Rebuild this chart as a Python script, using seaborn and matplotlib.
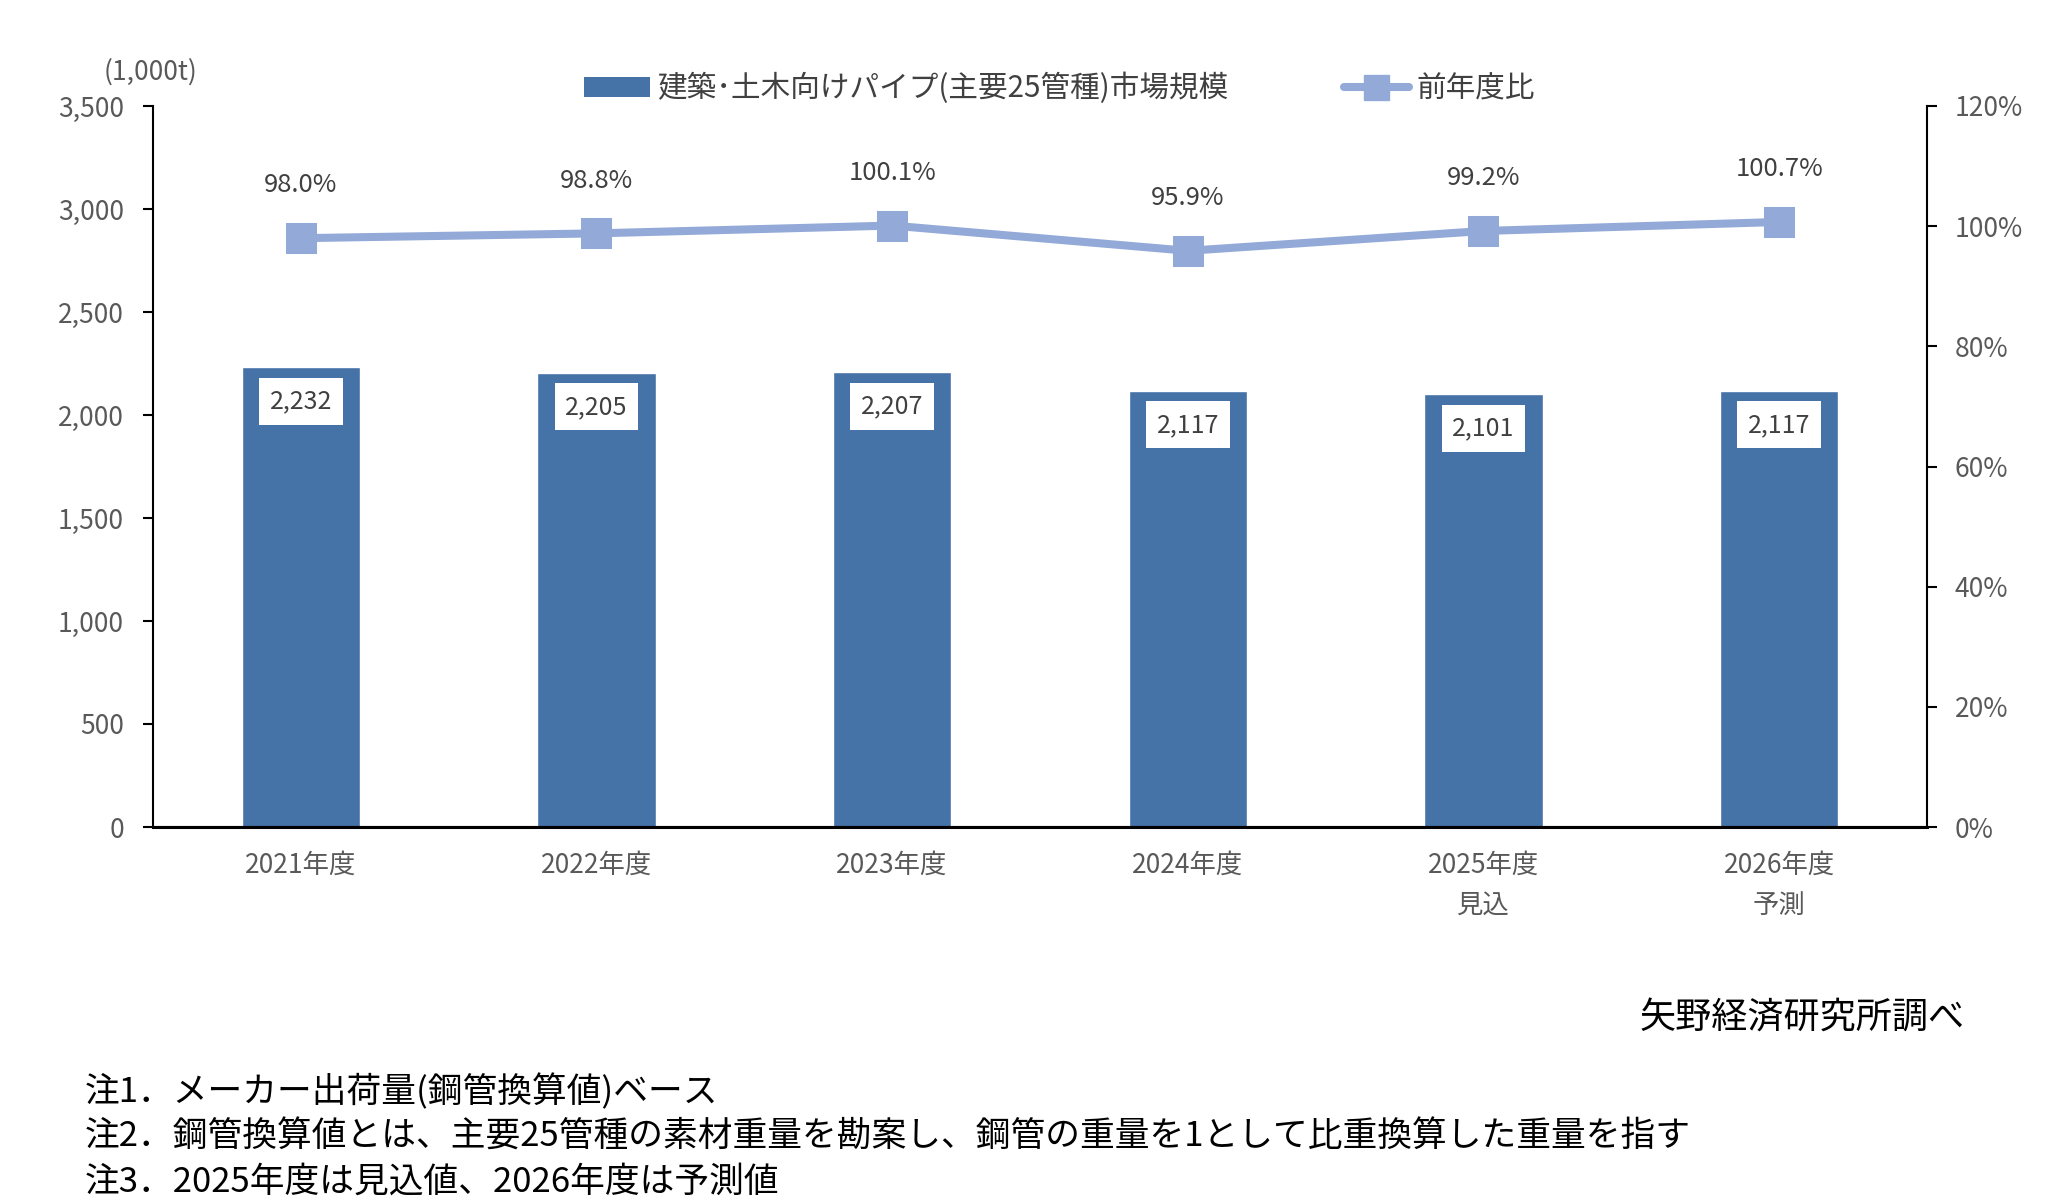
import matplotlib
matplotlib.use("Agg")
import matplotlib.pyplot as plt
import seaborn as sns
import pandas as pd
from matplotlib.patches import Patch
from matplotlib.lines import Line2D

# ---- data ----
categories = ["2021年度", "2022年度", "2023年度", "2024年度", "2025年度\n見込", "2026年度\n予測"]
market_size = [2232, 2205, 2207, 2117, 2101, 2117]
yoy_ratio = [98.0, 98.8, 100.1, 95.9, 99.2, 100.7]
left_ticks = [0, 500, 1000, 1500, 2000, 2500, 3000, 3500]
right_ticks = [0, 20, 40, 60, 80, 100, 120]
bar_label = "建築･土木向けパイプ(主要25管種)市場規模"
line_label = "前年度比"
unit_label = "(1,000t)"
source_text = "矢野経済研究所調べ"
notes = [
    "注1．メーカー出荷量(鋼管換算値)ベース",
    "注2．鋼管換算値とは、主要25管種の素材重量を勘案し、鋼管の重量を1として比重換算した重量を指す",
    "注3．2025年度は見込値、2026年度は予測値",
]

BAR_COLOR = "#4572A7"
LINE_COLOR = "#93A9D7"
TICK_COLOR = "#595959"
TEXT_COLOR = "#404040"

sns.set_theme(style="white")
plt.rcParams["font.family"] = ["Noto Sans CJK JP", "DejaVu Sans"]

df = pd.DataFrame({"cat": categories, "size": market_size, "ratio": yoy_ratio})

fig = plt.figure(figsize=(20.61, 12.0), dpi=100)
ax = fig.add_axes([153 / 2061, 1 - 827 / 1200, (1927 - 153) / 2061, (827 - 106) / 1200])
ax2 = ax.twinx()

sns.barplot(data=df, x="cat", y="size", color=BAR_COLOR, saturation=1,
            width=0.4, errorbar=None, ax=ax, zorder=2)
sns.pointplot(data=df, x="cat", y="ratio", color=LINE_COLOR, markers="s",
              linestyles="-", errorbar=None, ax=ax2, markersize=18,
              linewidth=5.8, zorder=3)

ax.set_xlim(-0.5, len(categories) - 0.5)
ax.set_ylim(0, 3500)
ax2.set_ylim(0, 120)
ax.set_yticks(left_ticks)
ax.set_yticklabels([f"{v:,}" for v in left_ticks])
ax2.set_yticks(right_ticks)
ax2.set_yticklabels([f"{v}%" for v in right_ticks])
ax.set_xlabel("")
ax.set_ylabel("")
ax2.set_xlabel("")
ax2.set_ylabel("")
ax.set_xticks(range(len(categories)))
ax.set_xticklabels(categories, linespacing=1.6)

for a in (ax, ax2):
    a.grid(False)
    for s in a.spines.values():
        s.set_color("black")
        s.set_linewidth(1.5)
    a.spines["top"].set_visible(False)
ax.spines["bottom"].set_linewidth(2.2)
ax2.spines["left"].set_visible(False)
ax.spines["right"].set_visible(False)

ax.tick_params(axis="y", left=True, direction="out", length=7, width=1.5,
               colors="black", labelcolor=TICK_COLOR, labelsize=19, pad=14)
ax.tick_params(axis="x", bottom=False, labelcolor=TICK_COLOR, labelsize=19, pad=12)
ax2.tick_params(axis="y", right=True, direction="out", length=7, width=1.5,
                colors="black", labelcolor=TICK_COLOR, labelsize=19, pad=13)

ax.set_zorder(1)
ax2.set_zorder(2)
ax.patch.set_visible(False)

# bar value labels
for i, v in enumerate(market_size):
    ax.annotate(f"{v:,}", xy=(i, v), xytext=(0, -24.5), textcoords="offset points",
                ha="center", va="center", fontsize=18, color=TEXT_COLOR, zorder=5,
                bbox=dict(boxstyle="square,pad=0.42", fc="white", ec="none"))

# ratio labels
for i, r in enumerate(yoy_ratio):
    ax2.annotate(f"{r:.1f}%", xy=(i, r), xytext=(0, 38), textcoords="offset points",
                 ha="center", va="center", fontsize=18.5, color=TEXT_COLOR)

# legend
handles = [
    Patch(facecolor=BAR_COLOR, edgecolor="none", label=bar_label),
    Line2D([], [], color=LINE_COLOR, lw=5.8, marker="s", markersize=18, label=line_label),
]
leg = ax2.legend(handles=handles, loc="center", bbox_to_anchor=(0.511, 1.024),
                 ncol=2, frameon=False, fontsize=21.3, handlelength=2.2,
                 handletextpad=0.25, columnspacing=3.9, borderaxespad=0)
for t in leg.get_texts():
    t.set_color(TEXT_COLOR)

fig.text(151 / 2061, 1 - 72 / 1200, unit_label, ha="center", va="center",
         fontsize=19, color=TICK_COLOR)
fig.text(1965 / 2061, 1 - 1018 / 1200, source_text, ha="right", va="center",
         fontsize=26, color="black")
for y, n in zip([1092, 1137, 1182], notes):
    fig.text(85 / 2061, 1 - y / 1200, n, ha="left", va="center", fontsize=25, color="black")

fig.savefig("out.png", dpi=100, facecolor="white")
